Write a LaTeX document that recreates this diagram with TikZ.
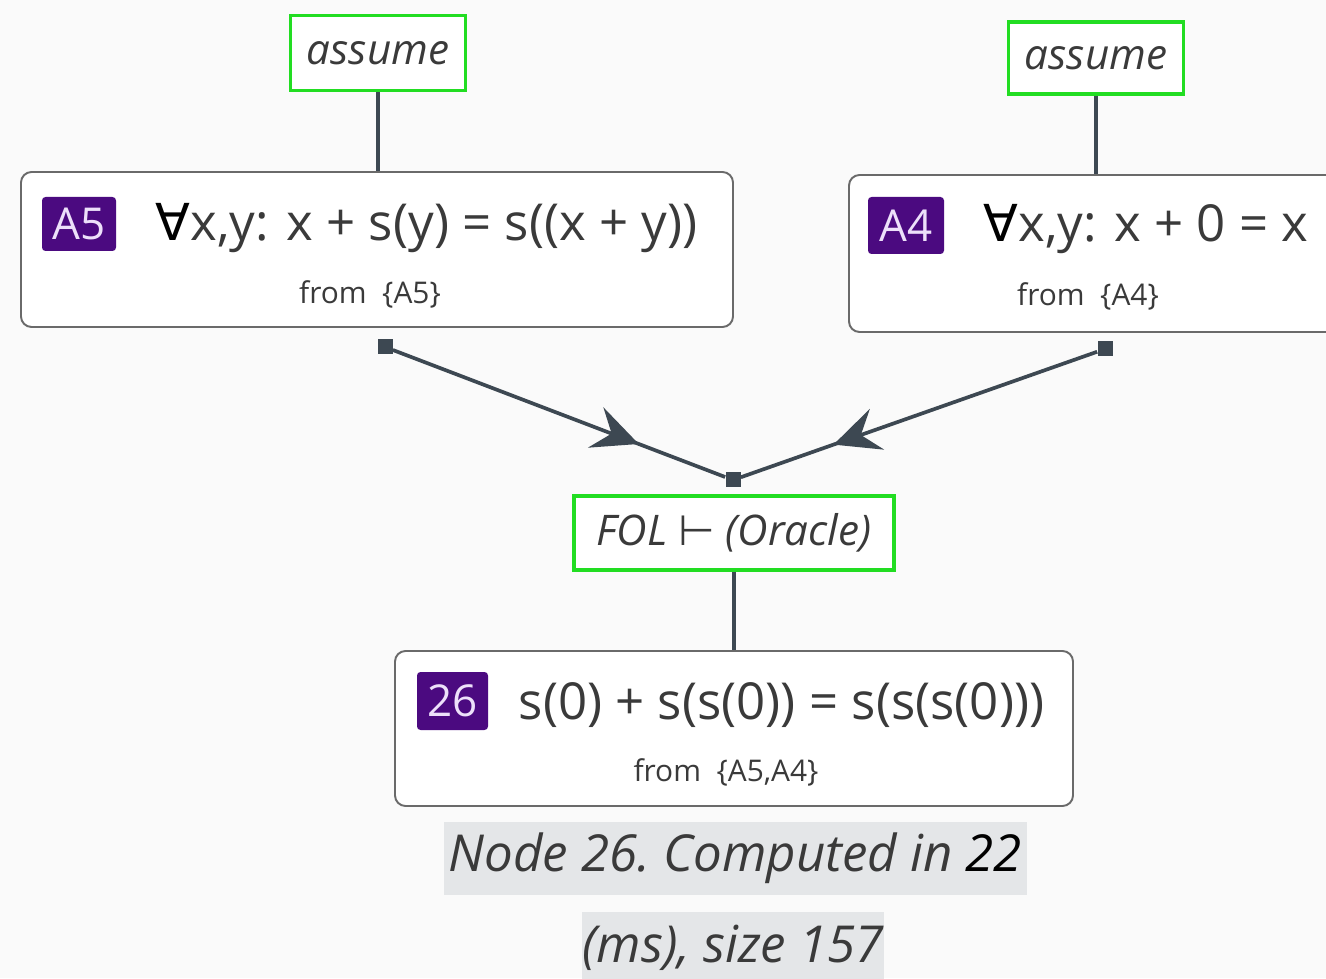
\documentclass[tikz,border=0pt]{standalone}
\usepackage{fontspec}
\setmainfont{Open Sans}
\newfontfamily\symfont{DejaVu Sans}
\usetikzlibrary{arrows.meta,positioning,decorations.markings}
\definecolor{PAGE}{HTML}{FAFAFA}
\definecolor{INK}{HTML}{3A3A3A}
\definecolor{EDGE}{HTML}{3D4852}
\definecolor{FRAME}{HTML}{6A6A6A}
\definecolor{RULE}{HTML}{22DD22}
\definecolor{TAG}{HTML}{4B0A80}
\definecolor{TAGTXT}{HTML}{EDE0FA}
\definecolor{NOTE}{HTML}{E4E6E8}

\begin{document}
\begin{tikzpicture}[
  stmt/.style={rounded corners=6pt, draw=FRAME, line width=1.1pt, fill=white},
  tag/.style={rounded corners=2pt, fill=TAG, text=TAGTXT, inner sep=0pt, font=\fontsize{25}{25}\selectfont},
  formula/.style={text=INK, inner sep=0pt, yshift=-0.08cm, font=\fontsize{29}{32}\selectfont},
  src/.style={text=INK, inner sep=0pt, font=\fontsize{17}{20}\selectfont},
  rulebox/.style={draw=RULE, line width=1.8pt, fill=white, inner sep=0pt, text=INK, font=\fontsize{24}{28}\selectfont\itshape},
  handle/.style={fill=EDGE, minimum size=0.3cm, inner sep=0pt},
  link/.style={draw=EDGE, line width=2.1pt},
  flow/.style={link, postaction={decorate}, decoration={markings, mark=at position 0.74 with {\arrow{Stealth[length=0.92cm,width=0.86cm,inset=0.34cm]}}}},
  caption/.style={fill=NOTE, inner sep=0pt, text=INK, font=\fontsize{29}{32}\selectfont\itshape}
]
\clip (0,0) rectangle (26.52,19.56);
\fill[PAGE] (0,0) rectangle (26.52,19.56);

% premises
\node[rulebox, minimum width=3.5cm, minimum height=1.5cm] (as5) at (7.56,18.50) {assume};
\node[rulebox, minimum width=3.5cm, minimum height=1.44cm] (as4) at (21.92,18.40) {assume};

\node[stmt, minimum width=14.24cm, minimum height=3.1cm] (s5) at (7.54,14.57) {};
\node[stmt, minimum width=9.92cm, minimum height=3.14cm] (s4) at (21.94,14.49) {};

\node[tag, minimum width=1.48cm, minimum height=1.08cm] (t5) at (1.58,15.08) {A5};
\node[formula, right=0.78cm of t5] (f5) {{\symfont\textcolor{black}{∀}}x,y: x + s(y) = s((x + y))};
\node[src] (o5) at (7.40,13.68) {from\ \ \{A5\}};

\node[tag, minimum width=1.52cm, minimum height=1.14cm] (t4) at (18.12,15.05) {A4};
\node[formula, right=0.78cm of t4] (f4) {{\symfont\textcolor{black}{∀}}x,y: x + 0 = x};
\node[src] (o4) at (21.76,13.64) {from\ \ \{A4\}};

\draw[link] (as5.south) -- (as5.south |- s5.north);
\draw[link] (as4.south) -- (as4.south |- s4.north);

% handles and inference
\node[handle] (h5) at (7.70,12.62) {};
\node[handle] (h4) at (22.10,12.58) {};
\node[handle] (hm) at (14.66,9.96) {};
\draw[flow] (h5) -- (hm);
\draw[flow] (h4) -- (hm);

\node[rulebox, minimum width=6.4cm, minimum height=1.48cm] (fol) at (14.68,8.90) {FOL {\symfont\upshape ⊢} (Oracle)};

% conclusion
\node[stmt, minimum width=13.56cm, minimum height=3.1cm] (s26) at (14.68,4.99) {};
\node[tag, minimum width=1.42cm, minimum height=1.16cm] (t26) at (9.05,5.54) {26};
\node[formula, right=0.6cm of t26] (f26) {s(0) + s(s(0)) = s(s(s(0)))};
\node[src] (o26) at (14.52,4.12) {from\ \ \{A5,A4\}};
\draw[link] (fol.south) -- (fol.south |- s26.north);

\node[caption, minimum width=11.66cm, minimum height=1.46cm] (cap1) at (14.71,2.39) {Node 26.\ Computed in \textcolor{black}{22}};
\node[caption, minimum width=6.04cm, minimum height=1.46cm] (cap2) at (14.66,0.6) {(ms), size 157};

\end{tikzpicture}
\end{document}
